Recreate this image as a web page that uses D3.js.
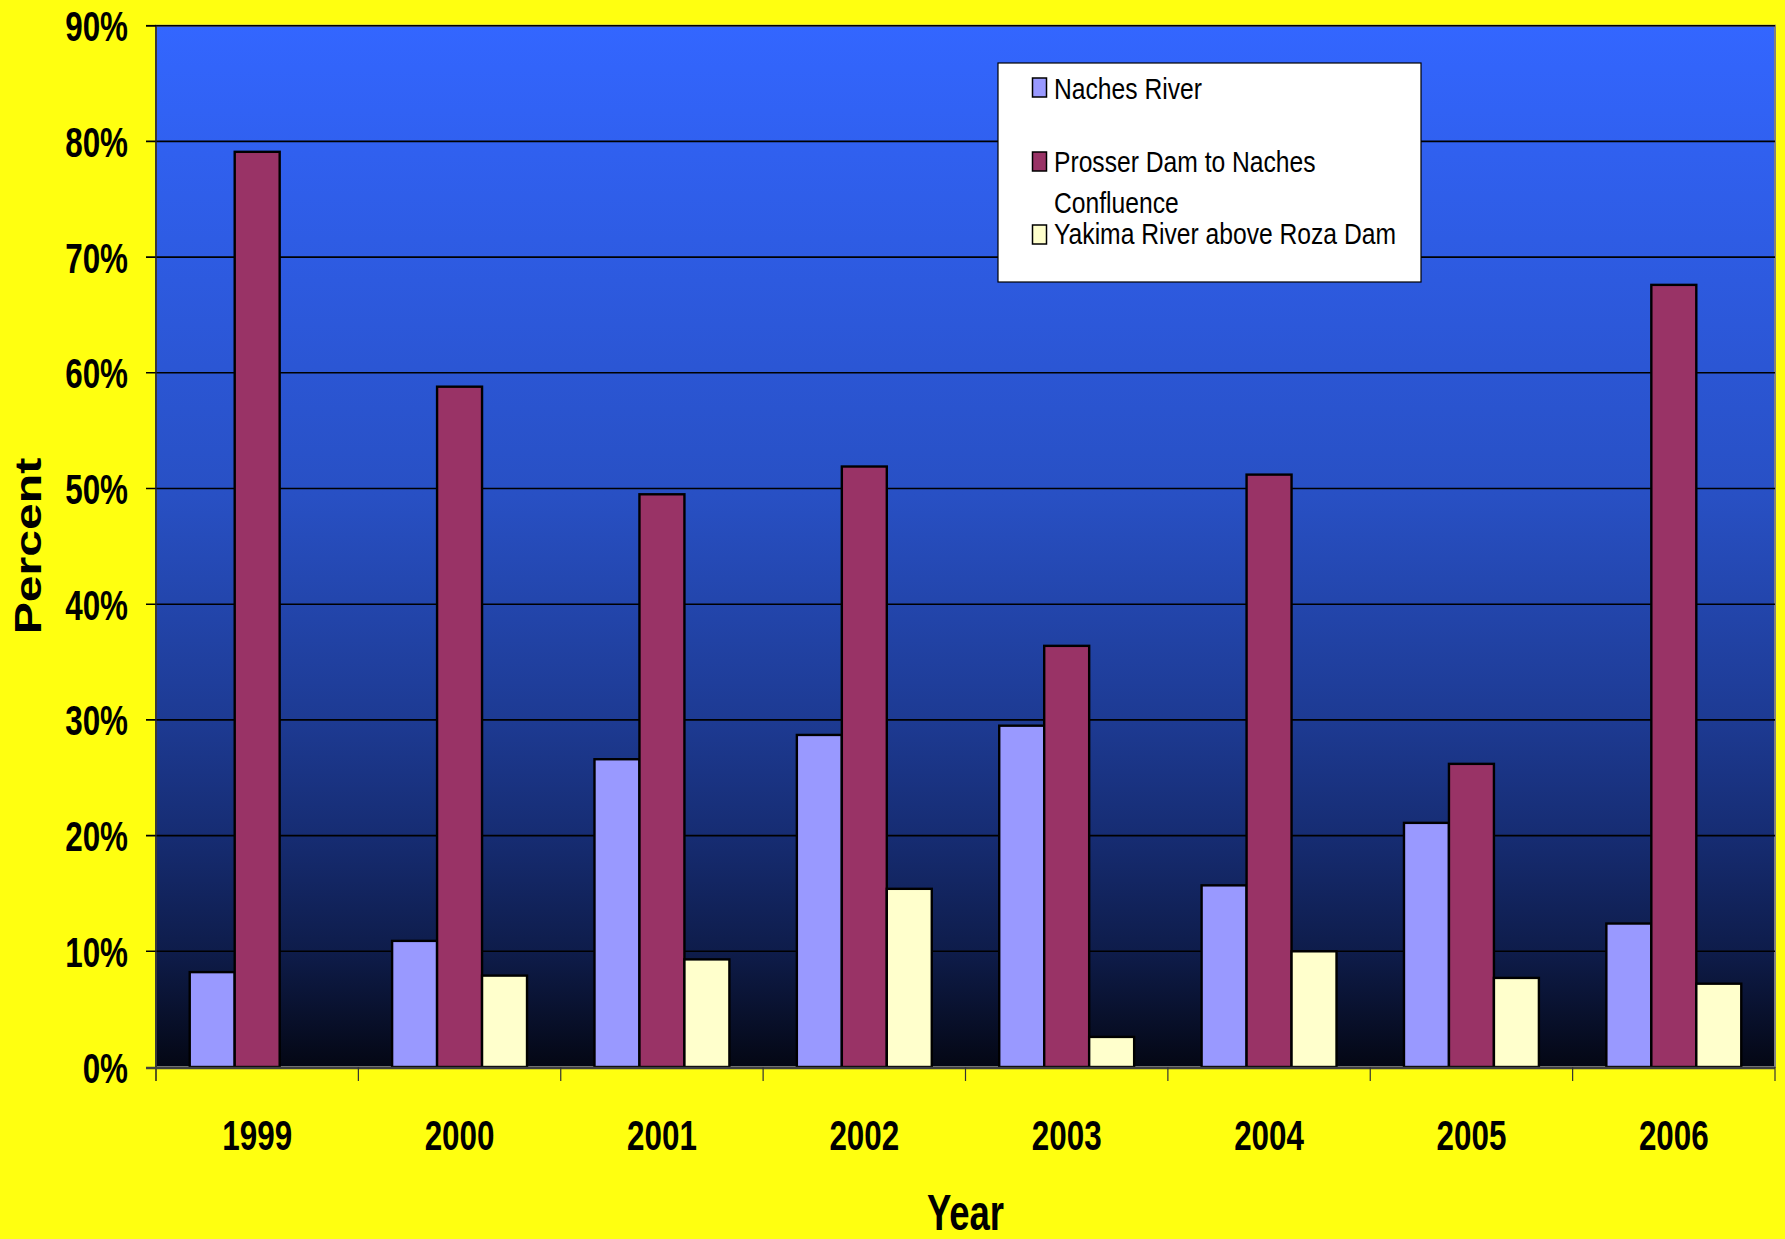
<!DOCTYPE html>
<html><head><meta charset="utf-8">
<script src="https://cdn.jsdelivr.net/npm/d3@7"></script>
<style>html,body{margin:0;padding:0;background:#FFFF10;}</style>
</head><body>
<script>
const years = ["1999","2000","2001","2002","2003","2004","2005","2006"];
const seriesNames = ["Naches River","Prosser Dam to Naches Confluence","Yakima River above Roza Dam"];
const naches  = [8.2, 10.9, 26.6, 28.7, 29.5, 15.7, 21.1, 12.4];
const prosser = [79.1, 58.8, 49.5, 51.9, 36.4, 51.2, 26.2, 67.6];
const yakima  = [0, 7.9, 9.3, 15.4, 2.6, 10.0, 7.7, 7.2];
const yTicks = [0,10,20,30,40,50,60,70,80,90];
const colors = ["#9999FF","#993366","#FFFFCC"];

const W = 1785, H = 1239;
const m = {left:156, right:1775, top:25.7, bottom:1067};
const svg = d3.select("body").append("svg").attr("width",W).attr("height",H)
  .style("display","block").style("font-family","'Liberation Sans', Arial, sans-serif");
svg.append("rect").attr("width",W).attr("height",H).attr("fill","#FFFF10");

const defs = svg.append("defs");
const g = defs.append("linearGradient").attr("id","bg").attr("x1",0).attr("y1",0).attr("x2",0).attr("y2",1);
[[0,"#3366FF"],[0.45,"#2850C4"],[0.67,"#1D3A92"],[0.78,"#162C72"],[0.89,"#0E1C4A"],[1,"#040714"]]
  .forEach(([o,c])=>g.append("stop").attr("offset",o).attr("stop-color",c));

const x = d3.scaleBand().domain(years).range([m.left,m.right]).paddingInner(0).paddingOuter(0);
const cw = x.bandwidth();
const xs = d3.scaleBand().domain([0,1,2]).range([cw/6, cw*5/6]).padding(0);
const y = d3.scaleLinear().domain([0,90]).range([m.bottom,m.top]);

svg.append("rect").attr("x",m.left).attr("y",m.top).attr("width",m.right-m.left).attr("height",m.bottom-m.top)
  .attr("fill","url(#bg)").attr("stroke","#808080").attr("stroke-width",2);

// gridlines + y ticks
svg.append("g").selectAll("line").data(yTicks.filter(d=>d>0)).join("line")
  .attr("x1",m.left-10).attr("x2",m.right).attr("y1",d=>y(d)).attr("y2",d=>y(d))
  .attr("stroke","#000").attr("stroke-width",1.6);

// bars
const data = [naches, prosser, yakima];
const gBars = svg.append("g");
data.forEach((vals,si)=>{
  gBars.selectAll(null).data(vals.map((v,i)=>({v,i}))).join("rect")
    .filter(d=>d.v>0)
    .attr("x",d=>x(years[d.i])+xs(si)).attr("width",xs.bandwidth())
    .attr("y",d=>y(d.v)).attr("height",d=>y(0)-y(d.v))
    .attr("fill",colors[si]).attr("stroke","#000").attr("stroke-width",2.4);
});

// axes
svg.append("line").attr("x1",m.left).attr("x2",m.left).attr("y1",m.top).attr("y2",m.bottom+14)
  .attr("stroke","#222").attr("stroke-width",1.5);
svg.append("line").attr("x1",m.left-10).attr("x2",m.left).attr("y1",m.top).attr("y2",m.top)
  .attr("stroke","#000").attr("stroke-width",1.6);
svg.append("line").attr("x1",m.left-10).attr("x2",m.right).attr("y1",m.bottom+1).attr("y2",m.bottom+1)
  .attr("stroke","#404040").attr("stroke-width",2.5);
svg.append("g").selectAll("line").data(years.slice(1).concat(["end"])).join("line")
  .attr("x1",d=>d==="end"?m.right:x(d)).attr("x2",d=>d==="end"?m.right:x(d))
  .attr("y1",m.bottom).attr("y2",m.bottom+14).attr("stroke","#333").attr("stroke-width",1.2);

// y tick labels
const sx = 0.73;
svg.append("g").selectAll("text").data(yTicks).join("text")
  .attr("transform",d=>`translate(128,${y(d)+15.5}) scale(${sx},1)`)
  .attr("text-anchor","end").attr("font-size",43).attr("font-weight","bold").attr("fill","#000")
  .text(d=>d+"%");

// x tick labels
svg.append("g").selectAll("text").data(years).join("text")
  .attr("transform",d=>`translate(${x(d)+cw/2},1150) scale(${sx},1)`)
  .attr("text-anchor","middle").attr("font-size",43).attr("font-weight","bold").attr("fill","#000")
  .text(d=>d);

// axis titles
svg.append("text").attr("transform",`translate(${(m.left+m.right)/2},1230) scale(${sx},1)`)
  .attr("text-anchor","middle").attr("font-size",50).attr("font-weight","bold").text("Year");
svg.append("text").attr("transform",`translate(41,546) rotate(-90) scale(1.3,1)`)
  .attr("text-anchor","middle").attr("font-size",37).attr("font-weight","bold").text("Percent");

// legend
const lg = svg.append("g");
lg.append("rect").attr("x",998).attr("y",63).attr("width",423).attr("height",219)
  .attr("fill","#fff").attr("stroke","#000").attr("stroke-width",1.2);
const legendItems = [
  {s:0, sy:78, lines:[["Naches River",99.3]]},
  {s:1, sy:152, lines:[["Prosser Dam to Naches",172.3],["Confluence",213.3]]},
  {s:2, sy:225, lines:[["Yakima River above Roza Dam",244.3]]}
];
legendItems.forEach(it=>{
  lg.append("rect").attr("x",1032.5).attr("y",it.sy).attr("width",14).attr("height",19)
    .attr("fill",colors[it.s]).attr("stroke","#000").attr("stroke-width",1.5);
  it.lines.forEach(([t,by])=>{
    lg.append("text").attr("transform",`translate(1054,${by}) scale(0.85,1)`)
      .attr("font-size",29).attr("fill","#000").text(t);
  });
});
</script>
</body></html>
